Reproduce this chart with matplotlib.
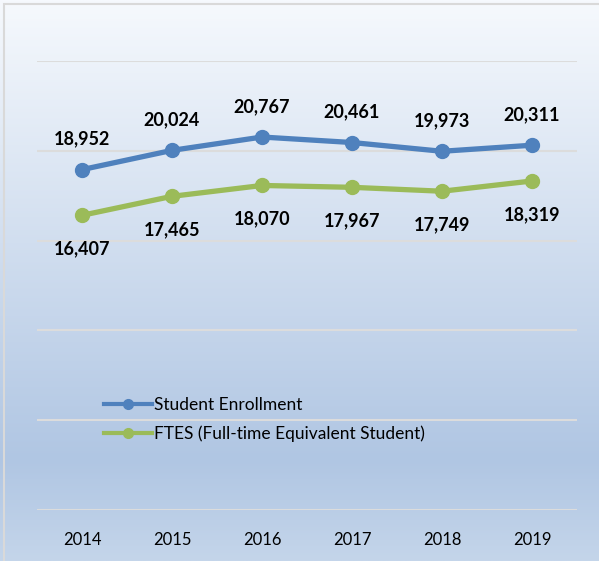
import numpy as np
import matplotlib.pyplot as plt
from matplotlib.lines import Line2D
from matplotlib.patches import Rectangle

years = ['2014', '2015', '2016', '2017', '2018', '2019']
enrollment = [18952, 20024, 20767, 20461, 19973, 20311]
ftes = [16407, 17465, 18070, 17967, 17749, 18319]

blue = '#4f81bd'
green = '#9bbb59'
font = 'Lato'

W, H = 599, 561
fig = plt.figure(figsize=(W / 100, H / 100), dpi=100)

# gradient background
bg = fig.add_axes([0, 0, 1, 1])
top = np.array([246, 249, 253]) / 255
mid = np.array([176, 198, 227]) / 255
bot = np.array([196, 213, 234]) / 255
t = np.linspace(0, 1, 300)[:, None]
grad = np.where(t < 0.82, top + (mid - top) * (t / 0.82), mid + (bot - mid) * ((t - 0.82) / 0.18))
bg.imshow(grad[:, None, :].repeat(2, axis=1), aspect='auto', extent=[0, 1, 0, 1], origin='upper')
bg.add_patch(Rectangle((4 / W, -0.01), 1, 1 - 4 / H + 0.01, fill=False, edgecolor='#d9d9d9', linewidth=1.5, transform=bg.transAxes))
bg.set_xlim(0, 1)
bg.set_ylim(0, 1)
bg.axis('off')

ax = fig.add_axes([37 / W, 1 - 510 / H, 540 / W, 449 / H])
ax.patch.set_alpha(0)
x = np.arange(len(years))
ax.plot(x, enrollment, color=blue, lw=3.8, marker='o', ms=10, zorder=3)
ax.plot(x, ftes, color=green, lw=3.8, marker='o', ms=10, zorder=3)

for i in x:
    ax.annotate(f'{enrollment[i]:,}', (i, enrollment[i]), xytext=(0, 22), textcoords='offset points',
                ha='center', va='center', fontsize=13, fontweight='bold', family=font)
    ax.annotate(f'{ftes[i]:,}', (i, ftes[i]), xytext=(0, -24), textcoords='offset points',
                ha='center', va='center', fontsize=13, fontweight='bold', family=font)

ax.set_xlim(-0.5, 5.5)
ax.set_ylim(0, 25000)
ax.set_yticks(range(0, 25001, 5000))
ax.yaxis.grid(True, color='#dcdcdc', lw=1.5)
ax.set_axisbelow(True)
ax.tick_params(axis='y', left=False, labelleft=False)
ax.set_xticks(x)
ax.set_xticklabels(years, family=font, fontsize=12)
ax.tick_params(axis='x', length=0, pad=16)
for s in ax.spines.values():
    s.set_visible(False)

handles = [Line2D([], [], color=blue, lw=3, marker='o', ms=7),
           Line2D([], [], color=green, lw=3, marker='o', ms=7)]
fig.legend(handles, ['Student Enrollment', 'FTES (Full-time Equivalent Student)'],
           loc='upper left', bbox_to_anchor=(88 / W, 1 - 381 / H), frameon=False,
           handlelength=2.8, handletextpad=0.1, labelspacing=0.75,
           prop={'family': font, 'size': 12.5})

fig.savefig('out.png', dpi=100)
